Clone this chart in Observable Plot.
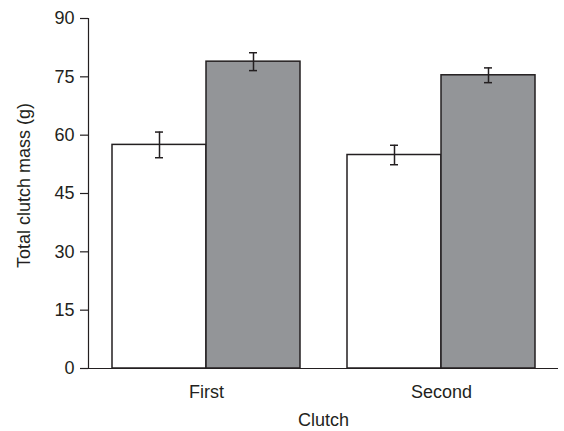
<!DOCTYPE html>
<html>
<head>
<meta charset="utf-8">
<script src="https://cdn.jsdelivr.net/npm/d3@7"></script>
<script src="https://cdn.jsdelivr.net/npm/@observablehq/plot@0.6"></script>
<style>
  html, body { margin: 0; padding: 0; background: #fff; }
</style>
</head>
<body>
<div id="chart"></div>
<script>
// Data
const clutches = ["First", "Second"];
const whiteMean = [57.5, 54.9];
const whiteErr = [3.3, 2.5];
const greyMean = [78.9, 75.4];
const greyErr = [2.3, 1.9];
const yTicks = [0, 15, 30, 45, 60, 75, 90];
const xTitle = "Clutch";
const yTitle = "Total clutch mass (g)";

const W = 564, H = 431;
const mL = 88, mR = 6, mT = 18, mB = 63;
const padIn = 0.2, padOut = 0.1;
const step = (W - mL - mR) / (clutches.length - padIn + 2 * padOut);
const bw = step * (1 - padIn);
const cap = 4;
const ink = "#231f20";

const white = clutches.map((c, i) => ({clutch: c, mean: whiteMean[i], lo: whiteMean[i] - whiteErr[i], hi: whiteMean[i] + whiteErr[i]}));
const grey = clutches.map((c, i) => ({clutch: c, mean: greyMean[i], lo: greyMean[i] - greyErr[i], hi: greyMean[i] + greyErr[i]}));

const chart = Plot.plot({
  width: W, height: H,
  marginLeft: mL, marginRight: mR, marginTop: mT, marginBottom: mB,
  style: {fontFamily: "'Liberation Sans', Arial, sans-serif", fontSize: "18px", color: ink, background: "#fff"},
  x: {domain: clutches, paddingInner: padIn, paddingOuter: padOut, axis: null},
  y: {domain: [0, 90], axis: null},
  marks: [
    Plot.barY(white, {x: "clutch", y: "mean", fill: "#fff", stroke: ink, strokeWidth: 1.5, insetRight: bw / 2}),
    Plot.barY(grey, {x: "clutch", y: "mean", fill: "#939598", stroke: ink, strokeWidth: 1.5, insetLeft: bw / 2}),
    Plot.ruleX(white, {x: "clutch", y1: "lo", y2: "hi", dx: -bw / 4, stroke: ink, strokeWidth: 1.5}),
    Plot.ruleX(grey, {x: "clutch", y1: "lo", y2: "hi", dx: bw / 4, stroke: ink, strokeWidth: 1.5}),
    Plot.tickY(white, {x: "clutch", y: "lo", insetLeft: bw / 4 - cap, insetRight: 3 * bw / 4 - cap, stroke: ink, strokeWidth: 1.5}),
    Plot.tickY(white, {x: "clutch", y: "hi", insetLeft: bw / 4 - cap, insetRight: 3 * bw / 4 - cap, stroke: ink, strokeWidth: 1.5}),
    Plot.tickY(grey, {x: "clutch", y: "lo", insetLeft: 3 * bw / 4 - cap, insetRight: bw / 4 - cap, stroke: ink, strokeWidth: 1.5}),
    Plot.tickY(grey, {x: "clutch", y: "hi", insetLeft: 3 * bw / 4 - cap, insetRight: bw / 4 - cap, stroke: ink, strokeWidth: 1.5}),
    Plot.ruleY([0], {stroke: ink, strokeWidth: 1.2}),
    Plot.frame({anchor: "left", stroke: ink, strokeWidth: 1.2}),
    Plot.axisY({ticks: yTicks, tickSize: 8, tickPadding: 6, label: null, stroke: ink, strokeWidth: 1.2, fill: ink}),
    Plot.axisX({tickSize: 0, tickPadding: 17, label: null, fill: ink}),
    Plot.text([xTitle], {frameAnchor: "bottom", dy: 52, lineAnchor: "middle", textAnchor: "middle", fill: ink, text: d => d}),
    Plot.text([yTitle], {frameAnchor: "left", rotate: -90, dx: -64, dy: -8, lineAnchor: "middle", textAnchor: "middle", fill: ink, text: d => d})
  ]
});
document.getElementById("chart").appendChild(chart);
</script>
</body>
</html>
